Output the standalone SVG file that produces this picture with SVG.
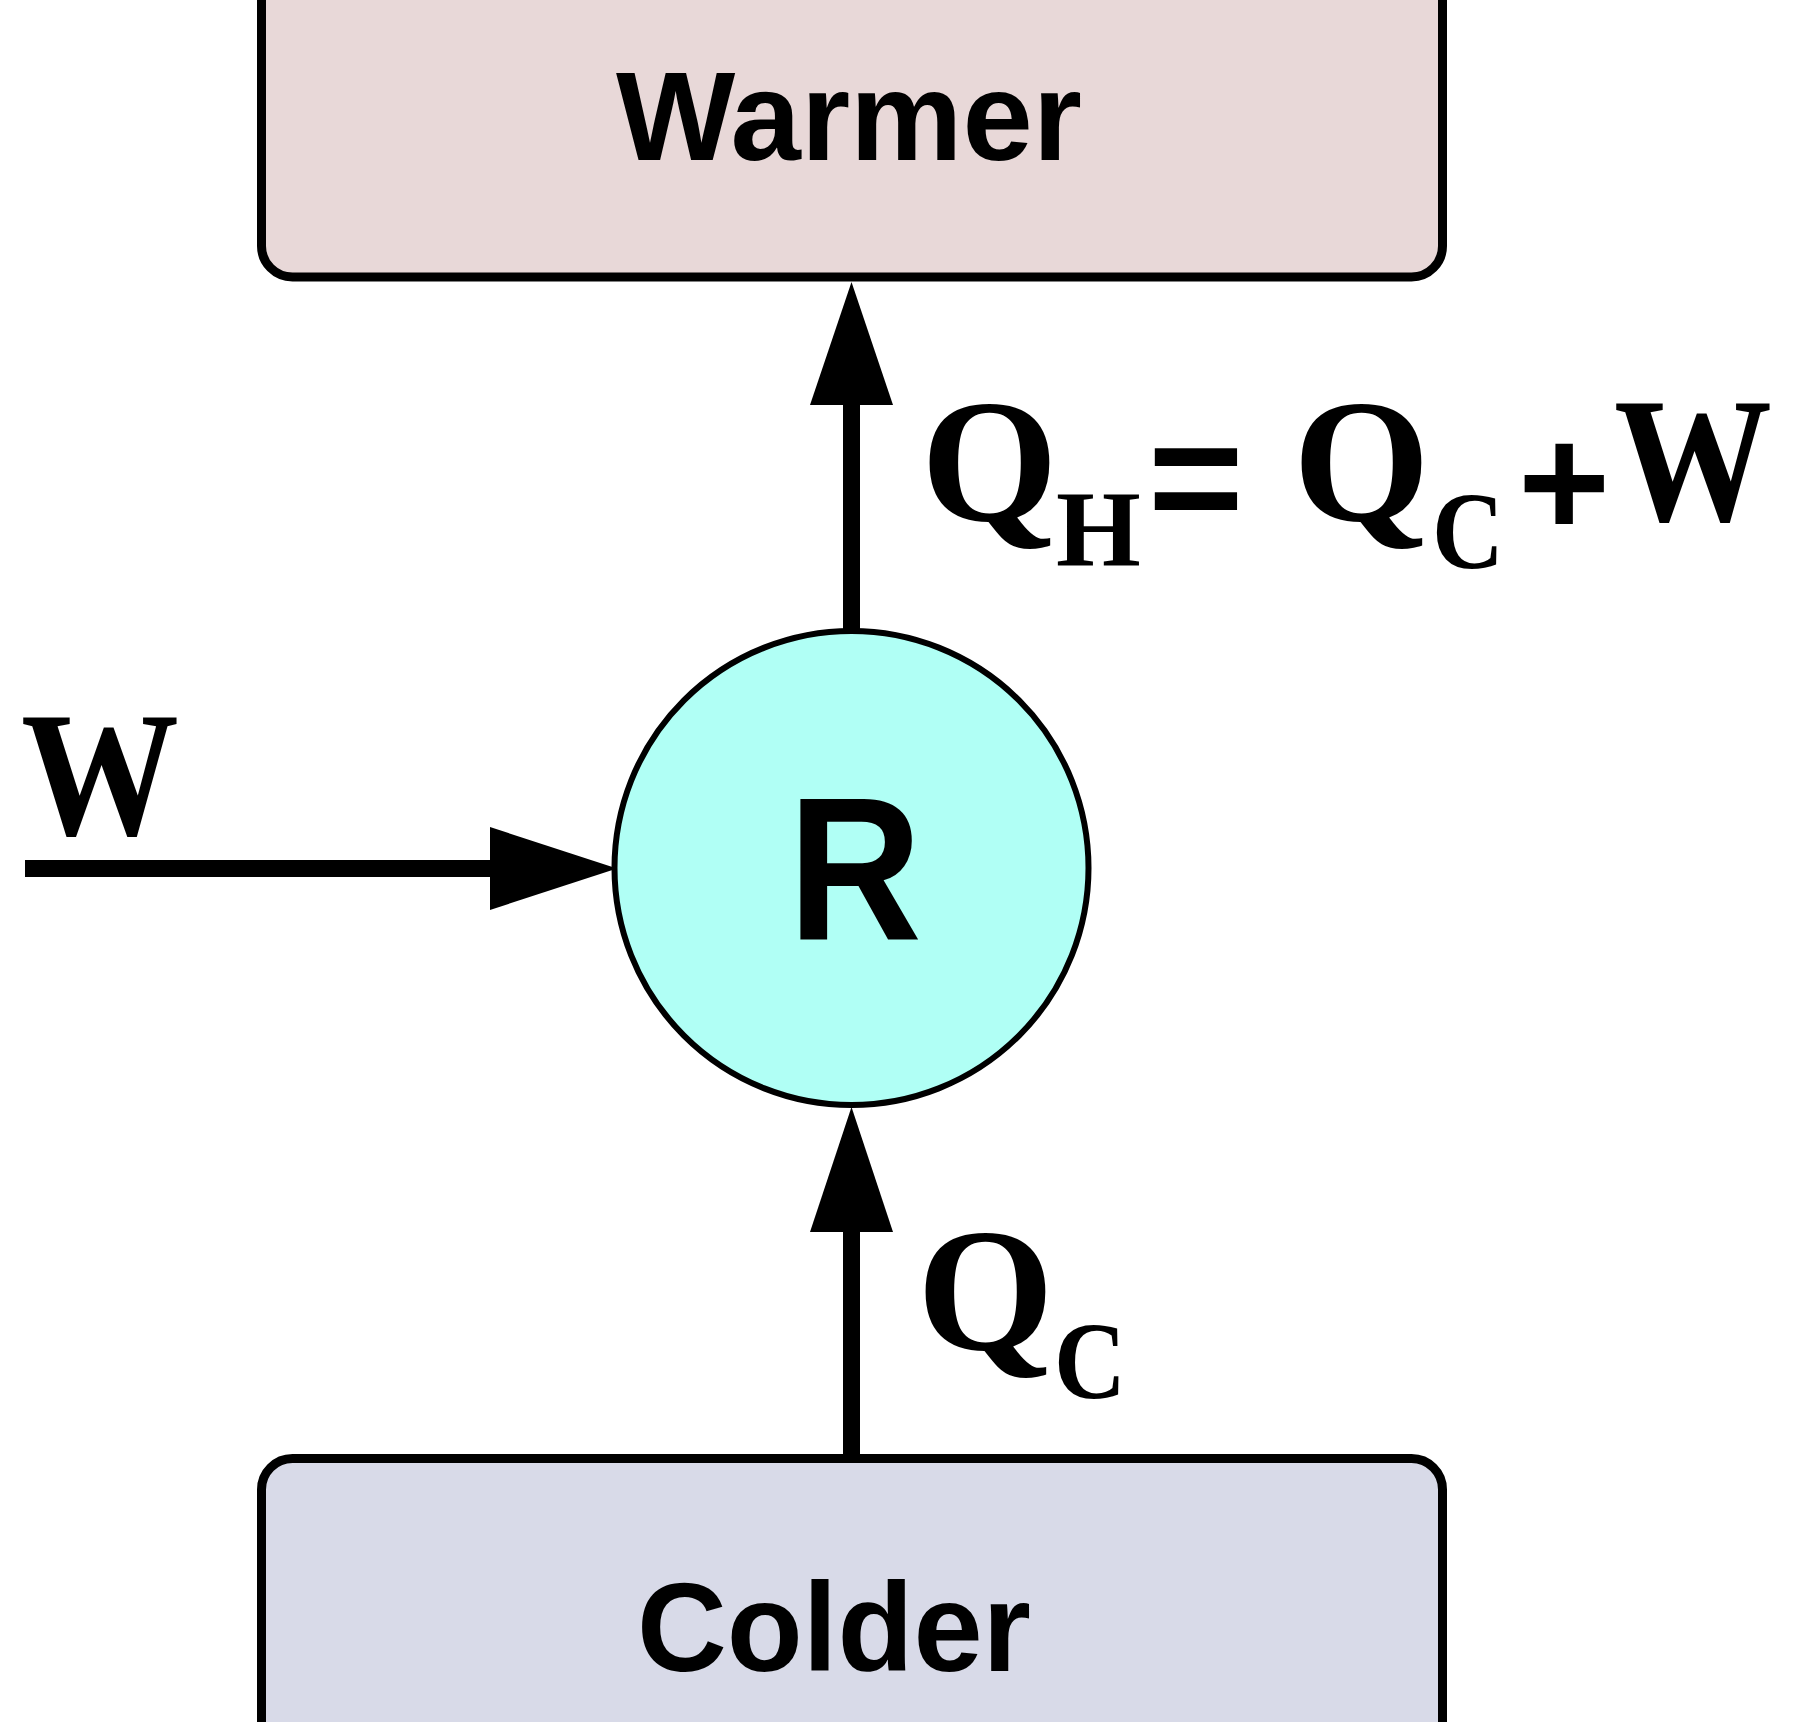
<svg xmlns="http://www.w3.org/2000/svg" width="1797" height="1722" viewBox="0 0 1797 1722">
  <style>
    .box { stroke: #000; stroke-width: 9; }
    .sans { font-family: "Liberation Sans", Arial, sans-serif; font-weight: bold; fill: #000; }
    .serif { font-family: "Liberation Serif", "Times New Roman", serif; font-weight: bold; fill: #000; }
    .conn { stroke: #000; stroke-width: 17; fill: none; }
    .head { fill: #000; stroke: none; }
  </style>
  <rect width="1797" height="1722" fill="#ffffff"/>
  <g id="warmer">
    <rect class="box" x="261.5" y="-60" width="1181" height="337" rx="31" ry="31" fill="#e8d8d8"/>
    <text class="sans" x="849" y="160" font-size="127" text-anchor="middle" textLength="466" lengthAdjust="spacingAndGlyphs">Warmer</text>
  </g>
  <g id="colder">
    <rect class="box" x="261.5" y="1458.5" width="1181" height="340" rx="31" ry="31" fill="#d8dae8"/>
    <text class="sans" x="834" y="1671" font-size="127" text-anchor="middle" textLength="394" lengthAdjust="spacingAndGlyphs">Colder</text>
  </g>
  <g id="refrigerator">
    <circle cx="851.5" cy="868" r="237" fill="#b0fff5" stroke="#000" stroke-width="6"/>
    <text class="sans" x="855" y="939" font-size="204" text-anchor="middle" textLength="134" lengthAdjust="spacingAndGlyphs">R</text>
  </g>
  <g id="connectors">
    <line class="conn" x1="851.5" y1="632" x2="851.5" y2="400"/>
    <polygon class="head" points="851.5,282 810,405 893,405"/>
    <line class="conn" x1="851.5" y1="1458" x2="851.5" y2="1228"/>
    <polygon class="head" points="851.5,1107 810,1232 893,1232"/>
    <line class="conn" x1="25" y1="868.5" x2="495" y2="868.5"/>
    <polygon class="head" points="617,868.5 490,827 490,910"/>
  </g>
  <g id="labels">
    <text class="serif" x="21" y="834" font-size="178" textLength="158" lengthAdjust="spacingAndGlyphs">W</text>
    <text class="serif" x="921" y="520" font-size="176">Q</text>
    <text class="serif" x="1056" y="566" font-size="109">H</text>
    <text class="sans" x="1148" y="533" font-size="164">=</text>
    <text class="serif" x="1293" y="520" font-size="176">Q</text>
    <text class="serif" x="1432" y="568" font-size="110" textLength="72" lengthAdjust="spacingAndGlyphs">C</text>
    <text class="sans" x="1518" y="536" font-size="158">+</text>
    <text class="serif" x="1614" y="520" font-size="178" textLength="158" lengthAdjust="spacingAndGlyphs">W</text>
    <text class="serif" x="917" y="1349" font-size="176">Q</text>
    <text class="serif" x="1054" y="1398" font-size="110" textLength="72" lengthAdjust="spacingAndGlyphs">C</text>
  </g>
</svg>
